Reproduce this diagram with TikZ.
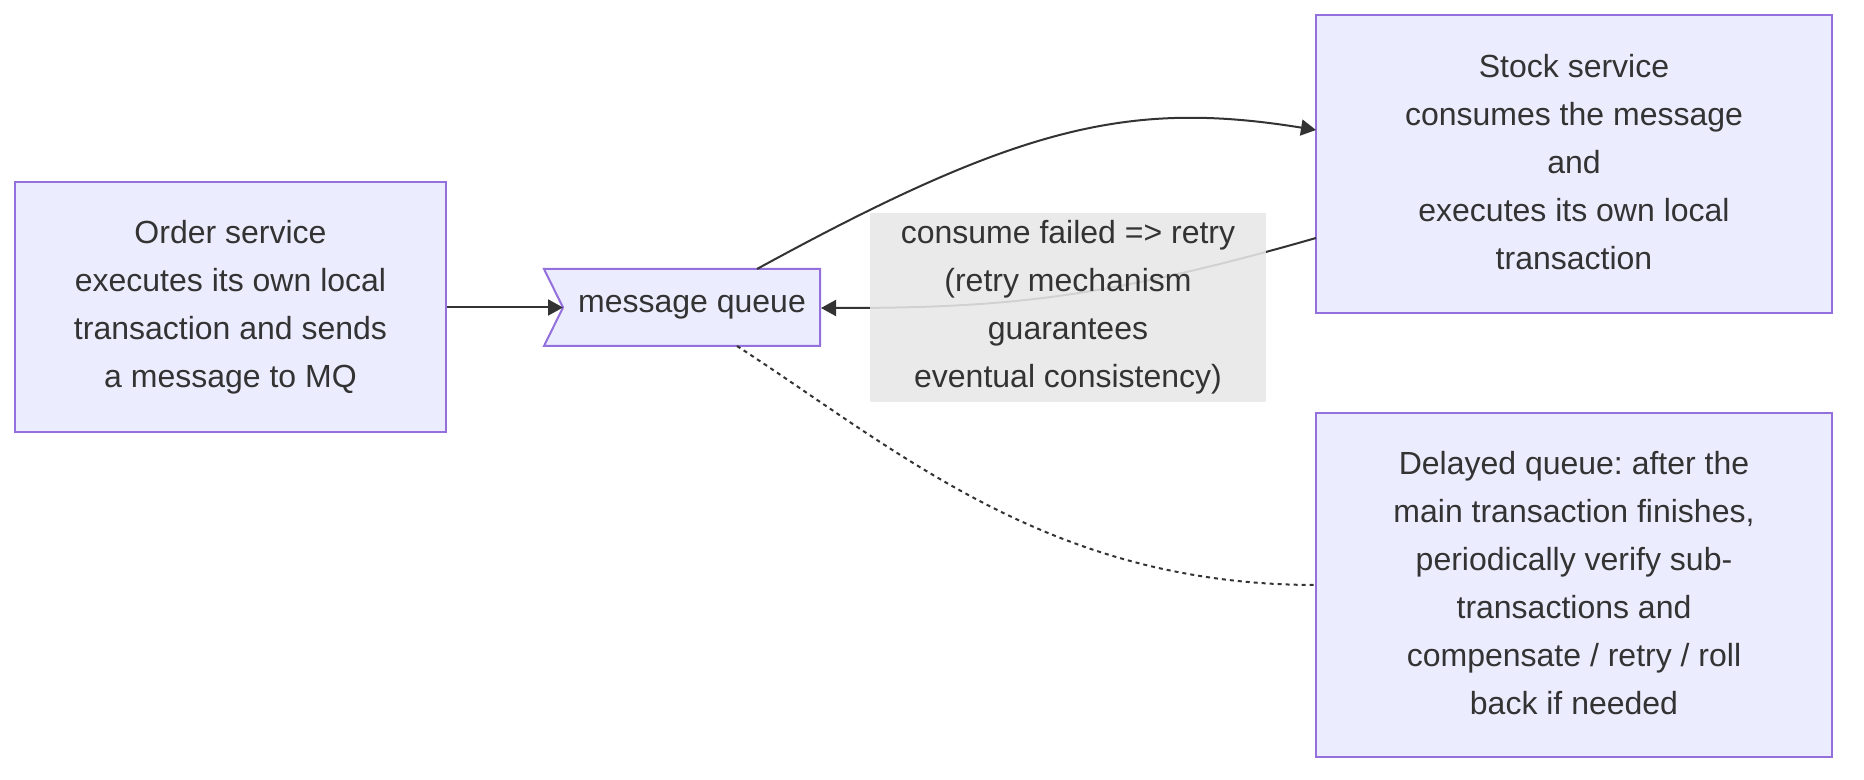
\documentclass[tikz,border=0pt]{standalone}
\usepackage{fontspec}
\setmainfont{Liberation Sans}
\usetikzlibrary{arrows.meta,backgrounds,calc}
\definecolor{boxfill}{HTML}{ECECFF}
\definecolor{boxline}{HTML}{9370DB}
\definecolor{ink}{HTML}{333333}
\definecolor{lblfill}{HTML}{E8E8E8}
\frenchspacing
\begin{document}
\begin{tikzpicture}[x=0.5pt,y=-0.5pt,
  txt/.style={font=\fontsize{16pt}{24pt}\selectfont\frenchspacing, text=ink, align=center, inner sep=0pt},
  procbox/.style={txt, draw=boxline, fill=boxfill, line width=1pt},
  shapeline/.style={draw=boxline, fill=boxfill, line width=1pt},
  edge/.style={draw=ink, line width=1pt, -{Triangle[length=7.5pt,width=8pt]}},
  dotedge/.style={draw=ink, line width=1pt, dash pattern=on 2pt off 2pt},
  lbl/.style={txt, fill=lblfill, fill opacity=0.88, text opacity=1}]
\useasboundingbox (0,0) rectangle (1864,780);
\fill[white] (0,0) rectangle (1864,780);

% nodes
\node[procbox, minimum width=215.5pt, minimum height=125pt] (order) at (230.5,307)
  {Order service\\executes its own local\\transaction and sends\\a message to MQ};
\node[procbox, minimum width=258pt, minimum height=149pt] (stock) at (1574,164) {};
\node[txt] (stocktext) at ([yshift=1.2pt]stock.center)
  {Stock service\\consumes the message\\and\\executes its own local\\transaction};
\node[procbox, minimum width=258pt, minimum height=172pt] (delayed) at (1574,585) {};
\node[txt] (delayedtext) at ([yshift=1.2pt]delayed.center)
  {Delayed queue: after the\\main transaction finishes,\\periodically verify sub-\\transactions and\\compensate / retry / roll\\back if needed};

% message queue (flag shape)
\coordinate (mqnw) at (544,269);
\coordinate (mqne) at (820,269);
\coordinate (mqse) at (820,346);
\coordinate (mqsw) at (544,346);
\coordinate (mqtip) at (563,307.5);
\draw[shapeline] (mqnw) -- (mqne) -- (mqse) -- (mqsw) -- (mqtip) -- cycle;
\node[txt] (mq) at (692,307.5) {message queue};

% connector end points
\coordinate (mqtop) at (757,269);
\coordinate (mqright) at (821,308);
\coordinate (mqbot) at (737,346);
\coordinate (stockin) at (1316,130);
\coordinate (stockout) at (1316,238);
\coordinate (delayin) at (1316,585);

% connectors
\draw[edge] (order.east |- mqtip) -- (mqtip);
\draw[edge] (mqtop) .. controls (1020,125) and (1130,100) .. (stockin);
\draw[edge] (stockout) .. controls (1100,300) and (1000,308) .. (mqright);
\draw[dotedge] (mqbot) .. controls (900,452) and (1050,585) .. (delayin);

% edge label
\node[lbl, minimum width=198pt, minimum height=94.5pt] (lab) at (1068,307.5)
  {consume failed => retry\\(retry mechanism\\guarantees\\eventual consistency)};
\end{tikzpicture}
\end{document}
